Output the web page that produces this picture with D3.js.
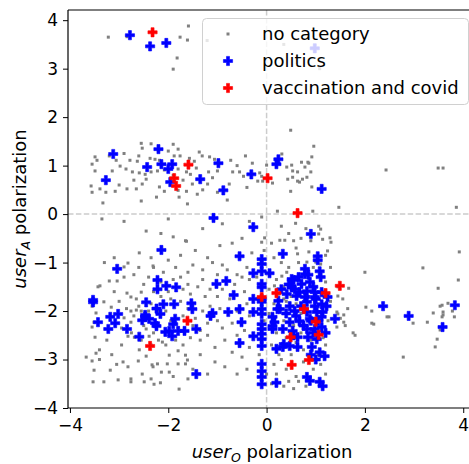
<!DOCTYPE html>
<html><head><meta charset="utf-8">
<script src="https://cdn.jsdelivr.net/npm/d3@7/dist/d3.min.js"></script>
<style>body{margin:0;background:#fff}svg{display:block}text{font-family:"DejaVu Sans",sans-serif}</style>
</head><body><svg id="c" width="469" height="464"></svg>
<script>
const xTicks = [-4,-2,0,2,4];
const yTicks = [-4,-3,-2,-1,0,1,2,3,4];
const seriesNames = ["no category","politics","vaccination and covid"];

const noCategory = [
[-3.22,3.65],[-2.84,3.66],[-1.76,3.65],[-1.61,3.59],[-1.59,3.88],[-1.82,3.22],[-1.9,2.99],[0.35,3.5],[1.08,3.0],[-1.21,3.58],
[-2.55,1.46],[-2.53,1.36],[-1.9,1.44],[-1.8,1.34],[-3.49,1.18],[-3.45,1.11],[-3.2,1.2],[-3.06,1.11],[-2.78,1.11],[-2.63,1.09],
[-2.37,1.15],[-2.27,1.13],[-2.18,1.11],[-1.88,1.2],[-1.76,1.2],[-1.57,1.15],[-1.37,1.28],[-1.31,1.2],[-1.47,1.09],[-1.16,1.18],
[-1.06,1.13],[-0.73,1.11],[-0.43,1.2],[-0.29,1.05],[-0.14,0.85],[0,1.01],[-3.49,0.89],[-3.14,0.89],[-2.98,0.99],[-2.86,0.93],
[-2.73,0.87],[-2.59,0.85],[-2.47,0.82],[-2.35,0.87],[-2.22,0.89],[-2.08,0.91],[-1.8,0.93],[-1.63,0.87],[-1.55,0.82],[-1.43,0.95],
[-1.18,0.87],[-1.0,0.89],[-0.69,0.87],[-0.55,0.87],[-0.47,0.78],[-0.18,0.68],[-0.08,0.68],[-3.57,0.58],[-3.55,0.45],[-3.39,0.52],
[-3.27,0.45],[-3.08,0.47],[-2.84,0.52],[-2.65,0.52],[-2.53,0.62],[-2.45,0.72],[-2.18,0.56],[-2.08,0.47],[-1.8,0.49],[-1.63,0.47],
[-1.51,0.62],[-1.2,0.62],[-1.0,0.45],[-0.76,0.62],[-0.8,0.29],[-3.33,0.23],[-2.55,0.27],[-2.24,0.35],[-1.78,0.35],[-1.61,0.21],
[-1.41,0.41],[-3.55,1.03],[-2.9,1.25],[-2.0,1.3],[-1.3,0.5],[-0.6,1.0],[-2.35,1.45],[-1.7,0.7],[-2.7,0.7],[-3.0,0.6],
[-1.1,0.75],[-0.4,0.55],[-2.6,1.2],[-1.9,0.8],
[0.41,0.97],[0.53,0.89],[0.63,0.87],[0.71,1.07],[0.84,1.07],[0.43,0.72],[0.63,0.68],[0.82,0.76],[0.49,0.47],[0.67,0.66],
[0.49,1.73],[0.96,1.4],[0.92,1.18],[0.31,1.24],[0.2,1.13],[0.51,1.01],[0.86,1.05],[0.78,0.97],[0.9,0.87],[0.53,0.76],
[0.73,0.72],[0.92,0.56],[0.12,0.64],[-0.1,0.78],[2.43,0.91],[3.49,0.95],[3.59,0.95],[1.47,0.14],[3.86,0.14],
[0.22,0.06],[0.94,0.06],[-0.1,-0.06],[0.59,-0.19],[1.06,-0.25],[1.1,-0.31],[1.06,-0.41],[1.14,-0.52],[1.29,-0.49],[1.31,-0.58],
[0.27,-0.54],[0.37,-0.54],[-0.04,-0.49],[-0.1,-0.58],[0.63,-0.82],[0.86,-0.78],[1.24,-0.76],[1.0,-0.99],[1.1,-1.03],[0.82,-0.99],
[0.41,-1.2],[0.31,-1.28],[0.16,-1.48],[1.12,-1.3],[2.0,-1.2],[3.18,-1.11],[3.49,-1.53],[3.92,-0.78],[3.9,-1.36],[1.67,-1.53],
[1.45,-1.69],[2.02,-1.92],[2.14,-2.0],[2.45,-2.12],[2.49,-2.12],[2.14,-2.25],[2.18,-2.27],[1.76,-2.45],[1.57,-2.08],[1.57,-2.23],
[1.43,-2.02],[1.45,-2.06],[2.98,-2.25],[3.27,-2.23],[3.39,-2.04],[3.53,-1.9],[3.57,-1.88],[3.69,-1.84],[3.59,-2.02],[3.59,-2.08],
[3.57,-2.12],[3.78,-2.0],[3.82,-2.12],[3.53,-2.39],[3.47,-2.58],[3.43,-2.74],[2.78,-2.95],[1.43,-2.33],
[-1.9,-0.47],[-1.63,-0.56],[-2.59,-0.8],[-2.82,-1.01],[-2.9,-1.09],[-2.31,-1.07],[-3.39,-1.48],[-3.43,-1.5],[-3.2,-1.38],[-3.04,-1.38],
[-3.31,-1.81],[-3.55,-1.9],[-3.47,-2.04],[-3.51,-2.23],[-3.55,-2.33],[-3.49,-2.54],[-3.16,-1.92],[-2.9,-2.14],[-2.76,-2.23],[-2.84,-1.63],
[-2.76,-1.71],[-2.65,-1.75],[-2.55,-1.61],[-2.76,-2.0],[-2.65,-1.98],[-2.82,-2.52],[-2.69,-2.54],[-2.45,-2.37],[-2.39,-2.52],[-3.67,-2.95],
[-3.55,-3.03],[-3.47,-2.87],[-3.51,-3.22],[-3.53,-3.46],[-3.31,-3.46],[-3.18,-3.22],[-3.02,-3.42],[-2.92,-3.05],[-2.82,-3.15],[-2.76,-3.4],
[-2.76,-3.46],[-2.61,-3.03],[-2.53,-3.3],[-2.49,-3.46],[-2.33,-3.11],[-2.31,-3.15],[-2.22,-3.09],[-2.14,-3.26],[-2.02,-3.09],[-2.35,-3.4],
[-2.29,-3.51],[-2.16,-3.48],[-1.98,-3.26],[-1.8,-3.09],[-1.65,-3.09],[-1.61,-3.01],[-1.8,-2.82],[-1.65,-2.91],[-1.78,-3.61],[-2.59,-2.8],
[-2.45,-2.93],[-2.12,-2.64],[-1.98,-2.91],
[-2.9,-1.3],[-2.7,-1.25],[-2.5,-1.45],[-2.4,-1.3],[-2.3,-1.6],[-2.15,-1.4],[-2.0,-1.6],[-1.9,-1.35],[-1.75,-1.3],[-1.7,-1.55],
[-1.6,-1.45],[-1.55,-1.65],[-1.4,-1.5],[-1.3,-1.35],[-1.25,-1.7],[-1.15,-1.55],[-1.0,-1.7],[-0.9,-1.55],[-0.75,-1.75],[-0.65,-1.45],
[-0.45,-1.6],[-0.4,-1.85],[-0.35,-2.1],[-0.45,-2.4],[-0.6,-2.5],[-0.7,-2.25],[-0.9,-2.35],[-1.0,-2.2],[-1.2,-2.25],[-1.3,-2.0],
[-1.45,-2.15],[-1.6,-1.95],[-1.7,-2.1],[-1.75,-1.8],[-1.95,-1.75],[-2.05,-2.0],[-2.15,-1.7],[-2.35,-1.85],[-2.4,-2.0],[-2.6,-1.9],
[-2.7,-2.1],[-2.85,-1.95],[-3.0,-1.8],[-3.1,-1.6],[-2.95,-2.35],[-2.75,-2.45],[-2.5,-2.3],[-2.3,-2.45],[-2.2,-2.6],[-2.05,-2.7],
[-1.85,-2.6],[-1.7,-2.7],[-1.55,-2.55],[-1.35,-2.6],[-1.2,-2.5],[-1.05,-2.75],[-0.85,-2.6],[-0.7,-2.85],[-0.5,-2.95],[-0.35,-2.75],
[-0.4,-3.2],[-0.6,-3.3],[-0.85,-3.15],[-1.05,-3.05],[-1.2,-3.3],[-1.35,-2.9],[-1.5,-3.2],[-1.6,-3.4],[-1.9,-3.35],[-2.1,-1.2],
[-1.85,-1.1],[-1.5,-1.05],[-1.3,-1.15],[-1.0,-1.25],[-0.8,-1.15],[-0.6,-1.25],[-0.4,-1.1],[-0.35,-1.35],[-1.2,-0.9],[-1.45,-0.75],
[-0.95,-0.65],[-0.7,-0.6],[-0.5,-0.5],[-0.3,-0.8],[-1.75,-0.85],[-2.0,-0.95],[-2.35,-0.9],[-2.6,-1.1],[-3.3,-1.0],[-3.1,-0.9],
[-2.45,-0.35],[-1.3,-0.3],[-0.9,-0.2],[-0.35,-0.15],[-3.35,-0.1],[-2.9,-0.15],[-2.0,-0.1],[-2.15,-0.4],[-1.65,-0.55],[-2.55,-2.6],
[-2.35,-2.7],[-1.95,-2.2],[-1.8,-2.35],[-1.5,-2.3],[-1.35,-2.4],[-1.15,-1.9],[-0.95,-1.95],[-0.6,-2.0],[-0.5,-1.3],[-0.9,-1.05],
[-1.1,-1.0],[-1.6,-1.2],[-2.2,-2.0],[-2.55,-2.0],[-2.3,-1.1],[-3.25,-2.6],[-3.4,-2.8],[-3.15,-2.9],[-2.95,-2.7],[-3.05,-3.1],
[-3.4,-3.0],[-0.05,-0.75],[-0.15,-2.9],[0.0,-3.3],[-0.2,-1.3],[-0.05,-2.2],
[0.15,-0.9],[0.3,-1.0],[0.45,-1.1],[0.2,-1.35],[0.35,-1.5],[0.5,-1.7],[0.25,-1.65],[0.15,-1.85],[0.4,-1.8],[0.6,-1.85],
[0.7,-2.05],[0.55,-2.3],[0.35,-2.2],[0.2,-2.45],[0.4,-2.55],[0.6,-2.65],[0.75,-2.8],[0.5,-2.9],[0.3,-3.0],[0.15,-3.1],
[0.4,-3.2],[0.6,-3.35],[0.75,-3.05],[0.95,-3.2],[1.1,-3.1],[1.2,-2.7],[1.25,-2.2],[1.3,-1.8],[1.2,-1.4],[1.3,-1.1],
[0.95,-1.1],[0.65,-1.0],[0.85,-1.7],[0.9,-2.6],[1.05,-2.9],[0.25,-2.9],[0.1,-2.7],[0.1,-3.5],[0.35,-3.55],[0.55,-3.6],
[0.65,-3.45],[1.2,-3.3],[0.05,-1.55],[0.05,-2.05],[0.1,-0.6],[0.45,-0.4],[0.7,-0.5],[0.6,-0.7],[0.8,-0.3],[1.2,-0.85],
[0.35,-1.75],[0.7,-2.45],[0.95,-2.15],[1.15,-2.55],[0.2,-3.3],[0.45,-3.45],[0.8,-3.55],[0.9,-0.55],[0.55,-0.55],[0.3,-0.25],
[1.45,-1.5],[1.55,-1.75],[1.6,-2.3],[1.65,-1.95],[1.8,-2.5],[1.5,-2.15]
];

const politics = [
[-2.78,3.69],[-2.37,3.46],[-2.04,3.53],[0.98,3.42],
[-3.12,1.24],[-3.27,0.70],[-2.20,1.34],[-2.43,0.97],[-2.14,1.03],[-1.92,1.03],[-2.0,0.93],[-1.96,0.66],[-0.98,1.05],[-1.35,0.72],
[-0.88,0.49],[-0.31,0.82],[0.24,1.13],[0.2,1.03],[1.12,0.52],[-1.08,-0.08],[-0.27,-0.27],
[-2.14,-0.74],[-3.04,-1.13],[-0.55,-0.87],[-2.22,-1.36],[-2.22,-1.55],[-2.04,-1.48],[-1.84,-1.51],[-1.02,-1.44],[-0.82,-1.38],[-0.67,-1.67],
[-3.53,-1.77],[-3.53,-1.82],[-2.45,-1.82],[-2.1,-1.86],[-1.88,-1.86],[-2.24,-1.95],[-1.53,-1.84],[-1.51,-1.96],[-1.1,-2.04],[-1.14,-2.1],
[-0.78,-2.02],[-0.55,-1.96],[-0.51,-2.23],[-0.55,-2.66],[-3.02,-2.06],[-3.18,-2.12],[-3.43,-2.23],[-3.08,-2.25],[-3.22,-2.37],[-2.84,-2.37],
[-2.59,-2.53],[-2.53,-2.19],[-2.47,-2.12],[-2.39,-2.16],[-2.27,-2.25],[-2.24,-2.31],[-1.86,-2.16],[-1.9,-2.27],[-2.06,-2.43],[-1.98,-2.41],
[-1.92,-2.52],[-1.8,-2.41],[-1.67,-2.41],[-1.43,-2.37],[-1.43,-3.3],[-2.16,-2.06],[-2.47,-2.08],
[-0.1,-0.93],[-0.1,-1.03],[-0.1,-1.18],[-0.1,-1.44],[-0.1,-1.51],[-0.1,-1.75],[-0.1,-1.81],[-0.1,-1.96],[-0.1,-2.06],[-0.1,-2.27],
[-0.1,-2.37],[-0.1,-2.47],[-0.1,-2.58],[-0.1,-2.72],[-0.1,-3.09],[-0.1,-3.24],[-0.1,-3.36],[-0.1,-3.51],
[-0.27,-1.22],[-0.27,-1.75],[-0.27,-2.02],[-0.27,-2.52],[0.06,-1.22],
[0.33,-0.82],[0.9,-0.41],[1.04,-0.87],[1.04,-0.95],[0.78,-1.13],[0.78,-1.24],[1.08,-1.18],[0.55,-1.36],[0.51,-1.51],[0.51,-1.34],
[0.71,-1.44],[0.88,-1.4],[0.57,-1.55],[0.67,-1.61],[0.82,-1.59],[0.98,-1.61],[1.12,-1.61],[1.24,-1.71],[0.98,-1.71],[0.78,-1.71],
[0.61,-1.69],[0.41,-1.65],[0.47,-1.9],[0.57,-2.0],[0.82,-1.81],[0.98,-1.9],[1.12,-1.86],[1.22,-1.9],[0.82,-2.02],[1.02,-2.02],
[1.14,-2.02],[1.39,-2.16],[1.12,-2.12],[0.88,-2.16],[0.67,-2.21],[0.47,-2.23],[0.27,-1.96],[0.24,-1.79],[0.12,-2.37],[0.16,-2.23],
[0.33,-2.37],[0.53,-2.41],[0.82,-2.37],[0.98,-2.37],[1.12,-2.33],[0.63,-2.54],[0.84,-2.54],[1.02,-2.58],[0.47,-2.72],[0.33,-2.74],
[0.2,-2.78],[0.63,-2.74],[0.92,-2.74],[1.18,-2.93],[1.08,-2.85],[0.82,-3.36],[0.88,-3.44],[1.08,-3.46],[1.14,-3.55],[0.2,-3.48],
[0.22,-1.96],[0.12,-2.12],[0.35,-2.68],[0.12,-2.31],
[0.6,-2.1],[0.7,-1.9],[0.9,-2.2],[1.0,-1.75],[0.4,-2.05],[0.75,-2.3],[0.95,-2.45],[1.05,-2.2],[0.55,-2.5],[0.3,-1.55],
[0.45,-1.45],[0.65,-1.3],[0.95,-1.5],[1.2,-2.45],[1.0,-3.0],[0.9,-2.9],[0.85,-1.25],[1.1,-1.3],
[2.37,-1.9],[2.89,-2.1],[3.58,-2.33],[3.83,-1.88]
];

const vaccination = [
[-2.32,3.75],[0.02,0.74],[-1.59,1.02],[-1.88,0.74],[-1.84,0.58],[0.63,0.02],[-0.1,-1.71],[-1.61,-2.2],[-2.37,-2.72],
[1.49,-1.48],[0.2,-1.63],[1.2,-1.63],[0.76,-1.96],[1.0,-2.22],[1.06,-2.49],[0.49,-2.54],[0.86,-3.01],[0.51,-3.11]
];

const W = 469, H = 464;
const m = {left:68, right:476, top:10, bottom:408};
const x = d3.scaleLinear().domain([-4.04, 4.26]).range([m.left, m.right]);
const y = d3.scaleLinear().domain([-4, 4.21]).range([m.bottom, m.top]);
const svg = d3.select("#c");

// reference lines
svg.append("line").attr("x1", x(0)).attr("x2", x(0)).attr("y1", m.top).attr("y2", m.bottom)
  .attr("stroke","#cccccc").attr("stroke-width",1.5).attr("stroke-dasharray","5.5,2.4");
svg.append("line").attr("x1", m.left).attr("x2", m.right).attr("y1", y(0)).attr("y2", y(0))
  .attr("stroke","#cccccc").attr("stroke-width",1.5).attr("stroke-dasharray","5.5,2.4");

// gray points
svg.append("g").selectAll("rect").data(noCategory).join("rect")
  .attr("x", d => x(d[0]) - 1.5).attr("y", d => y(d[1]) - 1.5)
  .attr("width", 3).attr("height", 3).attr("fill", "#808080");

function plusPath(s, t) {
  return `M${-t},${-s}H${t}V${-t}H${s}V${t}H${t}V${s}H${-t}V${t}H${-s}V${-t}H${-t}Z`;
}
const P = plusPath(4.6, 1.5);

svg.append("g").selectAll("path").data(politics).join("path")
  .attr("d", P).attr("transform", d => `translate(${x(d[0])},${y(d[1])})`)
  .attr("fill", "#0000ff").attr("stroke","#0000ff").attr("stroke-width",0.6);
svg.append("g").selectAll("path").data(vaccination).join("path")
  .attr("d", P).attr("transform", d => `translate(${x(d[0])},${y(d[1])})`)
  .attr("fill", "#ff0000").attr("stroke","#ff0000").attr("stroke-width",0.6);

// axes
const xAxis = d3.axisBottom(x).tickValues(xTicks).tickFormat(d3.format("d")).tickSizeOuter(0).tickSize(5).tickPadding(4);
const yAxis = d3.axisLeft(y).tickValues(yTicks).tickFormat(d3.format("d")).tickSizeOuter(0).tickSize(5).tickPadding(5);
const gx = svg.append("g").attr("transform", `translate(0,${m.bottom})`).call(xAxis);
const gy = svg.append("g").attr("transform", `translate(${m.left},0)`).call(yAxis);
[gx, gy].forEach(g => {
  g.select(".domain").remove();
  g.selectAll(".tick line").attr("stroke","#000").attr("stroke-width",1);
  g.selectAll(".tick text").attr("fill","#000").style("font-size","17px").style("font-family","DejaVu Sans");
});
gx.selectAll(".tick text").attr("dy","0.85em");
// spines
svg.append("line").attr("x1",m.left).attr("x2",m.right).attr("y1",m.bottom).attr("y2",m.bottom).attr("stroke","#000").attr("stroke-width",1.2);
svg.append("line").attr("x1",m.left).attr("x2",m.right).attr("y1",m.top).attr("y2",m.top).attr("stroke","#000").attr("stroke-width",1.2);
svg.append("line").attr("x1",m.left).attr("x2",m.left).attr("y1",m.top).attr("y2",m.bottom).attr("stroke","#000").attr("stroke-width",1.2);

// axis labels
const xl = svg.append("text").attr("x", (m.left+m.right)/2).attr("y", 458).attr("text-anchor","middle").style("font-size","18px");
xl.append("tspan").attr("font-style","italic").text("user");
xl.append("tspan").attr("font-style","italic").attr("font-size","12.5px").attr("dy",4).text("O");
xl.append("tspan").attr("dy",-4).text(" polarization");
const yl = svg.append("text").attr("transform", `translate(26,${(m.top+m.bottom)/2}) rotate(-90)`).attr("text-anchor","middle").style("font-size","18px");
yl.append("tspan").attr("font-style","italic").text("user");
yl.append("tspan").attr("font-style","italic").attr("font-size","12.5px").attr("dy",4).text("A");
yl.append("tspan").attr("dy",-4).text(" polarization");

// legend
const lg = svg.append("g");
lg.append("rect").attr("x",202.5).attr("y",18.5).attr("width",266).attr("height",86).attr("rx",4)
  .attr("fill","#fff").attr("fill-opacity",0.8).attr("stroke","#d0d0d0").attr("stroke-width",1);
const colors = ["#808080","#0000ff","#ff0000"];
seriesNames.forEach((n,i) => {
  const cy = 34 + i*27;
  if (i === 0) lg.append("rect").attr("x",226.5).attr("y",cy-1.5).attr("width",3).attr("height",3).attr("fill",colors[i]);
  else lg.append("path").attr("d",P).attr("transform",`translate(228,${cy})`).attr("fill",colors[i]).attr("stroke",colors[i]).attr("stroke-width",0.6);
  lg.append("text").attr("x",262).attr("y",cy+6).style("font-size","18px").attr("fill","#000").text(n);
});
</script></body></html>
